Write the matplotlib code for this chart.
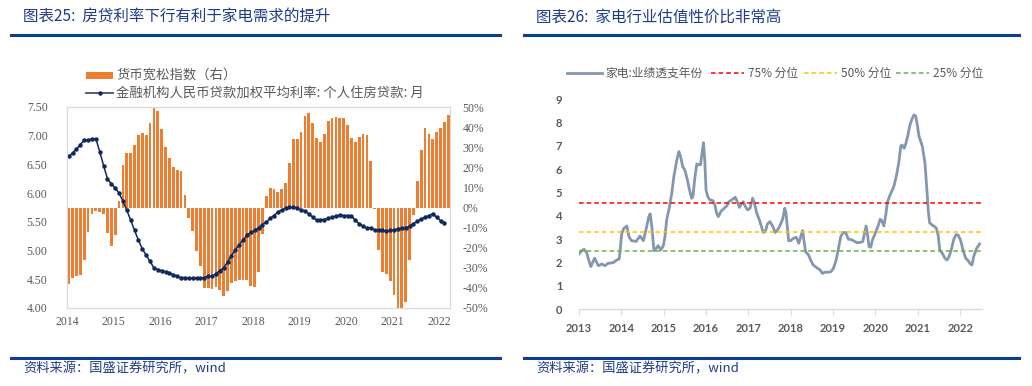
import matplotlib
matplotlib.use("Agg")
import matplotlib.pyplot as plt
import numpy as np
from matplotlib.lines import Line2D
from matplotlib.patches import Rectangle

CJK = ['Noto Sans CJK SC', 'DejaVu Sans']
plt.rcParams['font.family'] = CJK

# ---------- left chart data (monthly, 2014-01 .. 2022-03) ----------
easing_index = [-38, -35, -34, -33.5, -26, -12, -3.3, -1.6, -2, -3.3, -12.7, -19,
                -13.7, 3.3, 21, 27, 27, 31, 36, 37, 36, 42, 50, 48,
                39, 30, 24.4, 20, 18.5, 18, 6, -5.4, -11.5, -21.5, -29, -40,
                -40, -40.4, -39.6, -41, -44, -41.6, -37.6, -36.5, -36.3, -36.3, -36.3, -39,
                -39.5, -32, -13, 5.5, 9.7, 9.2, 7.5, 9.2, 12, 22, 34, 34,
                37.5, 45.5, 47, 42, 34.7, 32.5, 36.7, 43, 44.7, 45, 44.7, 44.5,
                41, 34.5, 32.8, 35, 36.7, 36, 23.3, -0.5, -21, -32, -33, -36.7,
                -43.7, -50, -50, -46.8, -26, -3.8, 13, 28.8, 39.5, 36.7, 34, 37.5,
                39.7, 42.5, 45.8]
mortgage_rate = [6.64, 6.70, 6.77, 6.84, 6.93, 6.93, 6.94, 6.95, 6.72, 6.48, 6.25, 6.16,
                 6.09, 6.00, 5.86, 5.70, 5.53, 5.35, 5.18, 5.03, 4.92, 4.81, 4.70, 4.67,
                 4.65, 4.63, 4.61, 4.58, 4.55, 4.53, 4.53, 4.52, 4.52, 4.52, 4.52, 4.53,
                 4.55, 4.55, 4.60, 4.65, 4.70, 4.80, 4.91, 5.01, 5.10, 5.18, 5.27, 5.32,
                 5.35, 5.40, 5.45, 5.50, 5.56, 5.61, 5.67, 5.71, 5.74, 5.75, 5.76, 5.74,
                 5.71, 5.69, 5.64, 5.58, 5.53, 5.54, 5.54, 5.56, 5.58, 5.60, 5.62, 5.61,
                 5.61, 5.60, 5.53, 5.47, 5.42, 5.40, 5.39, 5.36, 5.35, 5.35, 5.34, 5.35,
                 5.36, 5.38, 5.39, 5.40, 5.42, 5.47, 5.51, 5.55, 5.58, 5.61, 5.64, 5.58,
                 5.52, 5.48]
left_years = ['2014', '2015', '2016', '2017', '2018', '2019', '2020', '2021', '2022']

# ---------- right chart data ----------
pe_year = [2013.00, 2013.06, 2013.12, 2013.18, 2013.23, 2013.28, 2013.32, 2013.37, 2013.42, 2013.46,
           2013.54, 2013.61, 2013.69, 2013.81, 2013.89, 2013.95, 2014.01, 2014.06, 2014.13, 2014.18,
           2014.24, 2014.35, 2014.44, 2014.52, 2014.58, 2014.65, 2014.68, 2014.72, 2014.77, 2014.82,
           2014.87, 2014.93, 2014.99, 2015.03, 2015.07, 2015.13, 2015.19, 2015.24, 2015.31, 2015.36,
           2015.40, 2015.45, 2015.50, 2015.56, 2015.61, 2015.66, 2015.69, 2015.73, 2015.78, 2015.83,
           2015.87, 2015.91, 2015.94, 2015.97, 2016.00, 2016.04, 2016.09, 2016.16, 2016.21, 2016.25,
           2016.29, 2016.35, 2016.41, 2016.49, 2016.54, 2016.61, 2016.69, 2016.74, 2016.79, 2016.83,
           2016.88, 2016.92, 2016.98, 2017.04, 2017.10, 2017.14, 2017.20, 2017.26, 2017.31, 2017.35,
           2017.40, 2017.45, 2017.51, 2017.58, 2017.63, 2017.69, 2017.75, 2017.81, 2017.86, 2017.89,
           2017.92, 2017.95, 2018.00, 2018.06, 2018.13, 2018.19, 2018.24, 2018.28, 2018.30, 2018.35,
           2018.42, 2018.47, 2018.53, 2018.61, 2018.69, 2018.75, 2018.81, 2018.89, 2018.95, 2019.01,
           2019.07, 2019.12, 2019.18, 2019.24, 2019.30, 2019.36, 2019.41, 2019.48, 2019.56, 2019.63,
           2019.70, 2019.75, 2019.78, 2019.81, 2019.85, 2019.89, 2019.93, 2019.99, 2020.07, 2020.11,
           2020.15, 2020.20, 2020.25, 2020.28, 2020.33, 2020.38, 2020.44, 2020.50, 2020.55, 2020.60,
           2020.63, 2020.68, 2020.72, 2020.76, 2020.81, 2020.86, 2020.91, 2020.95, 2020.99, 2021.03,
           2021.06, 2021.11, 2021.17, 2021.21, 2021.25, 2021.28, 2021.34, 2021.40, 2021.44, 2021.48,
           2021.52, 2021.58, 2021.64, 2021.69, 2021.74, 2021.80, 2021.85, 2021.90, 2021.95, 2022.01,
           2022.07, 2022.13, 2022.19, 2022.23, 2022.28, 2022.32, 2022.39, 2022.46]
pe_value = [2.37, 2.51, 2.57, 2.43, 2.11, 1.83, 2.00, 2.19, 2.00, 1.87,
            1.94, 1.87, 1.97, 2.00, 2.11, 2.16, 3.26, 3.47, 3.57, 3.11,
            2.94, 2.91, 3.14, 2.94, 3.40, 3.97, 4.09, 3.54, 2.51, 2.60,
            2.73, 2.54, 2.71, 3.11, 3.83, 4.33, 4.97, 5.69, 6.40, 6.76,
            6.54, 6.11, 5.97, 5.54, 5.11, 4.76, 4.83, 5.54, 6.23, 6.19,
            6.19, 6.76, 7.14, 6.40, 5.11, 4.83, 4.69, 4.66, 4.47, 4.11,
            3.97, 4.19, 4.30, 4.43, 4.61, 4.69, 4.80, 4.61, 4.37, 4.51,
            4.61, 4.43, 4.26, 4.33, 4.76, 4.57, 4.11, 3.83, 3.54, 3.29,
            3.33, 3.66, 3.76, 3.54, 3.29, 3.40, 3.61, 3.86, 4.33, 4.11,
            3.54, 2.94, 2.94, 3.04, 3.09, 2.83, 3.14, 3.37, 3.11, 2.47,
            2.33, 2.11, 1.90, 1.79, 1.69, 1.54, 1.59, 1.59, 1.61, 1.76,
            2.09, 2.54, 3.11, 3.29, 3.29, 3.00, 3.00, 2.94, 2.86, 2.86,
            2.90, 3.33, 3.57, 3.26, 2.69, 2.66, 2.97, 3.23, 3.61, 3.86,
            3.80, 3.57, 4.11, 4.57, 4.83, 5.04, 5.29, 5.76, 6.26, 7.00,
            7.04, 6.90, 7.11, 7.40, 7.86, 8.14, 8.33, 8.29, 7.90, 7.40,
            7.26, 6.97, 6.26, 5.26, 4.19, 3.71, 3.61, 3.54, 3.47, 3.19,
            2.54, 2.40, 2.19, 2.11, 2.26, 2.61, 3.00, 3.19, 3.19, 2.97,
            2.54, 2.19, 2.09, 1.97, 1.90, 2.26, 2.61, 2.80]
pct_labels = ['75% 分位', '50% 分位', '25% 分位']
pct_values = [4.54, 3.30, 2.51]
pct_colors = ['#FF0000', '#FFC000', '#70AD47']
right_years = list(range(2013, 2023))

W, H = 1032, 386
fig = plt.figure(figsize=(W / 100, H / 100), dpi=100)


def fx(px):
    return px / W


def fy(py):
    return 1 - py / H


blue_rule = '#0B3D91'
title_col = '#1F3C88'
grey_txt = '#595959'

# headers / footers
for x0, x1, title in [(11, 500, '图表25:  房贷利率下行有利于家电需求的提升'),
                      (524, 1019, '图表26:  家电行业估值性价比非常高')]:
    fig.text(fx(x0 + 12), fy(17), title, fontsize=11.2, color=title_col,
             va='center', ha='left', family=CJK)
    fig.add_artist(Line2D([fx(x0), fx(x1)], [fy(35), fy(35)], color=blue_rule, lw=2.2))
    fig.add_artist(Line2D([fx(x0), fx(x1)], [fy(358), fy(358)], color=blue_rule, lw=2.2))
    fig.text(fx(x0 + 12), fy(368.5), '资料来源：国盛证券研究所，wind', fontsize=9.5,
             color=title_col, va='center', ha='left', family=CJK)

# ---------- left chart ----------
ax_r = fig.add_axes([fx(67), fy(308), fx(450 - 67), (308 - 107) / H])
ax_l = ax_r.twinx()
months = np.arange(len(easing_index))
ax_r.bar(months, easing_index, width=0.72, color='#ED7D31', linewidth=0)
ax_r.set_ylim(-50, 50)
ax_r.set_xlim(-0.45, len(easing_index) - 0.55)
ax_r.yaxis.tick_right()
ax_r.yaxis.set_label_position('right')
ax_r.set_yticks(np.arange(-50, 51, 10))
ax_r.set_yticklabels([f'{v}%' for v in range(-50, 51, 10)])

ax_l.plot(np.arange(len(mortgage_rate)), mortgage_rate, color='#0E2A5C', lw=1.1,
          marker='o', ms=2.2, mec='#0E2A5C', mfc='#0E2A5C')
ax_l.set_ylim(4.0, 7.5)
ax_l.yaxis.tick_left()
ax_l.set_yticks(np.arange(4.0, 7.51, 0.5))
ax_l.set_yticklabels([f'{v:.2f}' for v in np.arange(4.0, 7.51, 0.5)])
ax_l.set_zorder(ax_r.get_zorder() + 1)
ax_l.patch.set_visible(False)

ax_r.set_xticks([12 * i - 0.4 for i in range(len(left_years))])
ax_r.set_xticklabels(left_years)
for a in (ax_r, ax_l):
    for s in a.spines.values():
        s.set_color('#D9D9D9')
        s.set_linewidth(0.8)
    a.tick_params(length=0, labelsize=8.5, labelcolor=grey_txt)
    for t in a.get_xticklabels() + a.get_yticklabels():
        t.set_family('Liberation Serif')
ax_r.tick_params(axis='y', pad=9)
ax_l.tick_params(axis='y', pad=14)
ax_r.tick_params(axis='x', pad=6)

# left legend
fig.add_artist(Rectangle((fx(86), fy(78.5)), fx(27), 7 / H, color='#ED7D31', lw=0))
fig.text(fx(116), fy(75), '货币宽松指数（右）', fontsize=9.6, color=grey_txt, va='center', family=CJK)
fig.add_artist(Line2D([fx(86), fx(113)], [fy(92.5), fy(92.5)], color='#44546A', lw=1.3))
fig.add_artist(Line2D([fx(99.5)], [fy(92.5)], color='#0E2A5C', marker='o', ms=2.2, lw=0))
fig.text(fx(116), fy(92.5), '金融机构人民币贷款加权平均利率: 个人住房贷款: 月', fontsize=9.6,
         color=grey_txt, va='center', family=CJK)

# ---------- right chart ----------
ax2 = fig.add_axes([fx(579), fy(309.3), fx(981.7 - 579), 210 / H])
ax2.plot(pe_year, pe_value, color='#8497B0', lw=2.0, solid_joinstyle='round')
for v, c in zip(pct_values, pct_colors):
    ax2.axhline(v, color=c, lw=1.1, ls=(0, (3, 2)))
ax2.set_xlim(2013, 2022.51)
ax2.set_ylim(0, 9)
ax2.set_yticks(range(0, 10))
ax2.set_xticks(right_years)
for s in ('top', 'right', 'left'):
    ax2.spines[s].set_visible(False)
ax2.spines['bottom'].set_color('#D9D9D9')
ax2.spines['bottom'].set_linewidth(1.0)
ax2.tick_params(axis='y', length=0, pad=12)
ax2.tick_params(axis='x', length=4, color='#D9D9D9', pad=6)
ax2.tick_params(labelsize=8, labelcolor=grey_txt)
for t in ax2.get_xticklabels() + ax2.get_yticklabels():
    t.set_family('Lato')
    t.set_fontweight('bold')

# right legend
fig.add_artist(Line2D([fx(567), fx(602)], [fy(73), fy(73)], color='#8497B0', lw=2.0))
fig.text(fx(605), fy(73), '家电:业绩透支年份', fontsize=8.5, color=grey_txt, va='center', family=CJK)
for x0, lab, c in zip([711, 804, 896], pct_labels, pct_colors):
    fig.add_artist(Line2D([fx(x0), fx(x0 + 33)], [fy(73), fy(73)], color=c, lw=1.1, ls=(0, (3, 2))))
    fig.text(fx(x0 + 37), fy(73), lab, fontsize=8.5, color=grey_txt, va='center', family=CJK)

fig.savefig('out.png', dpi=100)
